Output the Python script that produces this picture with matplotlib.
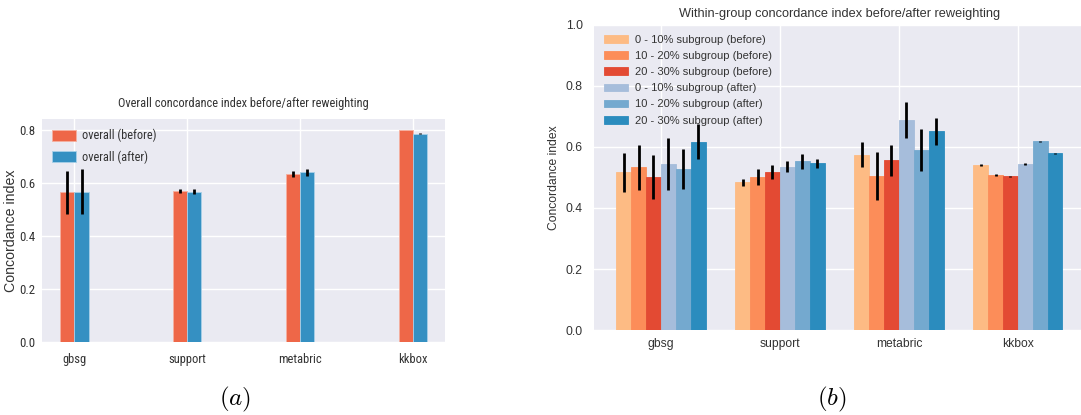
import matplotlib
matplotlib.use("Agg")
import matplotlib.pyplot as plt
from matplotlib import font_manager
import numpy as np

# ---------------- data ----------------
datasets = ["gbsg", "support", "metabric", "kkbox"]

overall_before = [0.565, 0.570, 0.636, 0.801]
overall_before_err = [0.080, 0.008, 0.011, 0.001]
overall_after = [0.568, 0.568, 0.642, 0.787]
overall_after_err = [0.084, 0.009, 0.013, 0.001]

sub_labels = ["0 - 10% subgroup (before)", "10 - 20% subgroup (before)",
              "20 - 30% subgroup (before)", "0 - 10% subgroup (after)",
              "10 - 20% subgroup (after)", "20 - 30% subgroup (after)"]
sub_colors = ["#fdbb84", "#fc8d59", "#e34a33", "#a6bddb", "#74a9cf", "#2b8cbe"]

b0_10 = [0.517, 0.484, 0.575, 0.542]
b0_10_err = [0.064, 0.012, 0.042, 0.003]
b10_20 = [0.533, 0.502, 0.505, 0.508]
b10_20_err = [0.075, 0.026, 0.078, 0.002]
b20_30 = [0.503, 0.518, 0.557, 0.504]
b20_30_err = [0.072, 0.022, 0.051, 0.001]
a0_10 = [0.544, 0.536, 0.687, 0.544]
a0_10_err = [0.084, 0.017, 0.059, 0.003]
a10_20 = [0.528, 0.553, 0.591, 0.619]
a10_20_err = [0.066, 0.025, 0.069, 0.001]
a20_30 = [0.617, 0.546, 0.652, 0.579]
a20_30_err = [0.058, 0.015, 0.044, 0.001]

# ---------------- style ----------------
BG = "#EAEAF2"
TXT = "#333333"
plt.rcParams["font.family"] = ["Liberation Sans", "DejaVu Sans"]
plt.rcParams["mathtext.fontset"] = "cm"

# pick a condensed family if one is installed
narrow_name = None
for cand in ["Roboto Condensed", "Liberation Sans Narrow", "Open Sans Condensed",
             "Arial Narrow", "DejaVu Sans Condensed"]:
    try:
        font_manager.findfont(cand, fallback_to_default=False)
        narrow_name = cand
        break
    except Exception:
        pass
if narrow_name is not None:
    narrow = [narrow_name, "Liberation Sans", "DejaVu Sans"]
    nscale = 1.0
else:
    narrow = ["Liberation Sans", "DejaVu Sans"]
    nscale = 0.85

fig = plt.figure(figsize=(10.81, 4.15), dpi=100)


def style(ax):
    ax.set_facecolor(BG)
    for s in ax.spines.values():
        s.set_visible(False)
    ax.grid(True, color="white", linewidth=1.0)
    ax.set_axisbelow(True)
    ax.tick_params(length=0, colors=TXT)


# ---------------- panel (a) ----------------
axa = fig.add_axes([0.0389, 0.176, 0.373, 0.537])
style(axa)
x = np.arange(len(datasets))
w = 0.125
err_kw = dict(ecolor="black", elinewidth=2.0, capsize=0)
axa.bar(x - w / 2, overall_before, w, yerr=overall_before_err, color="#EE6748",
        edgecolor="#f5b0a0", linewidth=0.6, label="overall (before)", error_kw=err_kw)
axa.bar(x + w / 2, overall_after, w, yerr=overall_after_err, color="#3590C2",
        edgecolor="#a8d0e8", linewidth=0.6, label="overall (after)", error_kw=err_kw)
axa.set_xticks(x)
axa.set_xticklabels(datasets, family=narrow, fontsize=9 * nscale)
axa.set_yticks([0.0, 0.2, 0.4, 0.6, 0.8])
axa.set_yticklabels(["0.0", "0.2", "0.4", "0.6", "0.8"], family=narrow,
                    fontsize=9.3 * nscale)
axa.tick_params(axis="x", pad=8)
axa.tick_params(axis="y", pad=5)
axa.set_ylabel("Concordance index", fontsize=10.2, color=TXT)
axa.yaxis.set_label_coords(-0.06, 0.5)
axa.set_title("Overall concordance index before/after reweighting",
              family=narrow, fontsize=8.9 * nscale, color=TXT, pad=9)
leg = axa.legend(loc="upper left", frameon=False,
                 prop={"family": narrow, "size": 8.8 * nscale},
                 handlelength=2.0, handleheight=1.0, labelspacing=0.65,
                 borderaxespad=0.4, handletextpad=0.5)
for t in leg.get_texts():
    t.set_color(TXT)

# ---------------- panel (b) ----------------
axb = fig.add_axes([0.5495, 0.2048, 0.454, 0.735])
style(axb)
series = [b0_10, b10_20, b20_30, a0_10, a10_20, a20_30]
errs = [b0_10_err, b10_20_err, b20_30_err, a0_10_err, a10_20_err, a20_30_err]
n = len(series)
for i, (vals, e, c, lab) in enumerate(zip(series, errs, sub_colors, sub_labels)):
    off = (i - (n - 1) / 2) * w
    axb.bar(x + off, vals, w, yerr=e, color=c, edgecolor=c, linewidth=0.6,
            label=lab, error_kw=err_kw)
axb.set_xticks(x)
axb.set_xticklabels(datasets, fontsize=8.7)
axb.set_ylim(0, 1.0)
axb.set_yticks([0.0, 0.2, 0.4, 0.6, 0.8, 1.0])
axb.set_yticklabels(["0.0", "0.2", "0.4", "0.6", "0.8", "1.0"], fontsize=8.7)
axb.tick_params(axis="x", pad=6)
axb.tick_params(axis="y", pad=8)
axb.set_ylabel("Concordance index", fontsize=8.7, color=TXT)
axb.yaxis.set_label_coords(-0.07, 0.5)
axb.set_title("Within-group concordance index before/after reweighting",
              fontsize=9.2, color=TXT, pad=6)
legb = axb.legend(loc="upper left", frameon=False, fontsize=8,
                  handlelength=2.2, handleheight=0.7, labelspacing=0.55,
                  borderaxespad=0.5, handletextpad=0.6)
for t in legb.get_texts():
    t.set_color(TXT)

# ---------------- captions ----------------
fig.text(235 / 1081, 1 - 399 / 415, r"$(a)$", fontsize=18, ha="center", va="center")
fig.text(832 / 1081, 1 - 399 / 415, r"$(b)$", fontsize=18, ha="center", va="center")

fig.savefig("out.png", dpi=100, facecolor="white")
